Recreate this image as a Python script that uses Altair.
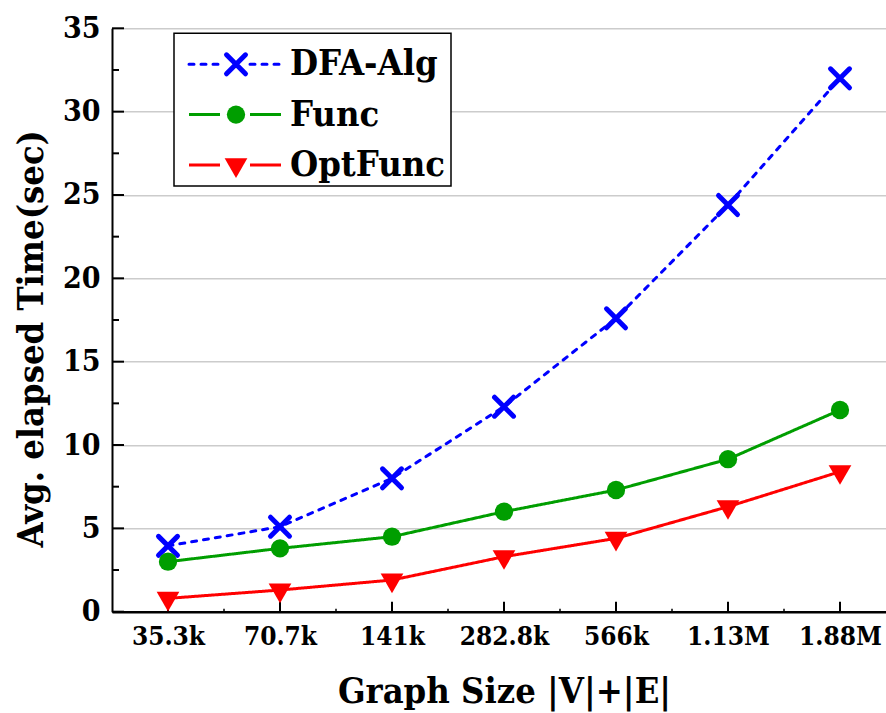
import altair as alt
import pandas as pd

# ---------------- data ----------------
categories = ["35.3k", "70.7k", "141k", "282.8k", "566k", "1.13M", "1.88M"]
series_names = ["DFA-Alg", "Func", "OptFunc"]
dfa_alg = [3.95, 5.1, 8.0, 12.3, 17.6, 24.4, 32.0]
func = [3.0, 3.8, 4.5, 6.0, 7.3, 9.15, 12.1]
opt_func = [0.8, 1.3, 1.9, 3.3, 4.4, 6.3, 8.4]
y_ticks = [0, 5, 10, 15, 20, 25, 30, 35]

values = [dfa_alg, func, opt_func]
rows = []
for name, vals in zip(series_names, values):
    for i, v in enumerate(vals):
        rows.append({"series": name, "idx": i, "value": v})
df = pd.DataFrame(rows)

# ---------------- styles ----------------
FONT = "'DejaVu Serif Condensed', 'DejaVu Serif', serif"
W, H = 774, 583.4
X_PATH = "M-1,-1L1,1M-1,1L1,-1"
TRI_PATH = "M-1,-0.577L1,-0.577L0,1.155Z"
styles = {
    "DFA-Alg": dict(color="#0000ff", dash=[5, 7], shape=X_PATH, size=360, filled=False, sw=5),
    "Func": dict(color="#009e00", dash=[1, 0], shape="circle", size=335, filled=True, sw=0),
    "OptFunc": dict(color="#ff0000", dash=[1, 0], shape=TRI_PATH, size=515, filled=True, sw=0),
}

label_expr = "[" + ",".join("'%s'" % c for c in categories) + "][datum.value]"

x_enc = alt.X(
    "idx:Q",
    scale=alt.Scale(domain=[-0.5, -0.5 + W / 112.0], nice=False, zero=False),
    axis=alt.Axis(
        values=list(range(len(categories))), labelExpr=label_expr,
        title="Graph Size |V|+|E|", grid=False, ticks=False, tickSize=0,
        domainColor="black", domainWidth=2.5,
        labelFont=FONT, labelFontSize=26, labelFontWeight="bold", labelColor="black",
        labelBaseline="alphabetic", labelPadding=33, labelOverlap=False, labelFlush=False,
        titleFont=FONT, titleFontSize=36, titleFontWeight="bold", titleColor="black",
        titleX=392, titleY=91, titleBaseline="alphabetic", titleAlign="center",
    ),
)
y_enc = alt.Y(
    "value:Q",
    scale=alt.Scale(domain=[0, 35], nice=False, zero=True),
    axis=alt.Axis(
        values=y_ticks, title="Avg. elapsed Time(sec)", grid=True,
        gridColor="#cccccc", gridWidth=1.5, ticks=False, tickSize=0,
        domainColor="black", domainWidth=2,
        labelFont=FONT, labelFontSize=30, labelFontWeight="bold", labelColor="black",
        labelPadding=12,
        titleFont=FONT, titleFontSize=36, titleFontWeight="bold", titleColor="black",
        titleAngle=270, titleX=-70, titleY=310, titleBaseline="alphabetic", titleAlign="center",
    ),
)

layers = []

xt = pd.DataFrame({"idx": list(range(len(categories)))})
layers.append(alt.Chart(xt).mark_rule(color="black", strokeWidth=2).encode(
    x=x_enc, y=alt.value(H), y2=alt.value(H - 10)))
layers.append(alt.Chart(xt).transform_filter("datum.idx < %d" % (len(categories) - 1))
              .transform_calculate(idx="datum.idx + 0.5")
              .mark_rule(color="black", strokeWidth=1.5).encode(
    x=x_enc, y=alt.value(H), y2=alt.value(H - 3)))
yt = pd.DataFrame({"value": y_ticks})
layers.append(alt.Chart(yt).mark_rule(color="black", strokeWidth=2).encode(
    y=y_enc, x=alt.value(0), x2=alt.value(12)))
layers.append(alt.Chart(yt).transform_filter("datum.value < %d" % max(y_ticks))
              .transform_calculate(value="datum.value + 2.5")
              .mark_rule(color="black", strokeWidth=2).encode(
    y=y_enc, x=alt.value(0), x2=alt.value(7)))

for name in series_names:
    st = styles[name]
    layers.append(alt.Chart(df).transform_filter(alt.datum.series == name)
                  .mark_line(color=st["color"], strokeWidth=3, strokeDash=st["dash"],
                             strokeCap="round" if name == "DFA-Alg" else "butt")
                  .encode(x=x_enc, y=y_enc, order="idx:Q"))

for name in series_names:
    st = styles[name]
    if st["filled"]:
        mk = alt.Chart(df).transform_filter(alt.datum.series == name).mark_point(
            shape=st["shape"], size=st["size"], filled=True, fill=st["color"],
            strokeWidth=0, opacity=1)
    else:
        mk = alt.Chart(df).transform_filter(alt.datum.series == name).mark_point(
            shape=st["shape"], size=st["size"], filled=False, stroke=st["color"],
            strokeWidth=st["sw"], strokeCap="round", opacity=1)
    layers.append(mk.encode(x=x_enc, y=y_enc))

one = pd.DataFrame({"k": [0]})
layers.append(alt.Chart(one).mark_rect(fill="white", stroke="black", strokeWidth=1.5).encode(
    x=alt.value(62), x2=alt.value(339), y=alt.value(5), y2=alt.value(157.7)))
LEG_Y0, LEG_STEP = 36, 50.3
for i, name in enumerate(series_names):
    st = styles[name]
    ry = LEG_Y0 + i * LEG_STEP
    sd = pd.DataFrame({"series": [name]})
    for (a, b) in [(77, 108), (138, 169)]:
        layers.append(alt.Chart(sd).mark_rule(
            color=st["color"], strokeWidth=3, strokeDash=st["dash"],
            strokeCap="round" if name == "DFA-Alg" else "butt").encode(
            x=alt.value(a), x2=alt.value(b), y=alt.value(ry)))
    if st["filled"]:
        lm = alt.Chart(sd).mark_point(shape=st["shape"], size=st["size"], filled=True,
                                      fill=st["color"], strokeWidth=0, opacity=1)
    else:
        lm = alt.Chart(sd).mark_point(shape=st["shape"], size=st["size"], filled=False,
                                      stroke=st["color"], strokeWidth=st["sw"],
                                      strokeCap="round", opacity=1)
    layers.append(lm.encode(x=alt.value(124), y=alt.value(ry)))
    layers.append(alt.Chart(sd).mark_text(
        align="left", baseline="middle", font=FONT, fontSize=36, fontWeight="bold",
        color="black").encode(x=alt.value(178), y=alt.value(ry), text="series:N"))

chart = alt.layer(*layers).properties(
    width=W, height=H,
    autosize=alt.AutoSizeParams(type="none"),
    padding={"left": 112, "top": 28.3, "right": 0, "bottom": 713 - 28.3 - H},
    background="white",
).configure_view(stroke=None)

chart.save("out.html", embed_options={"renderer": "svg", "actions": False})
